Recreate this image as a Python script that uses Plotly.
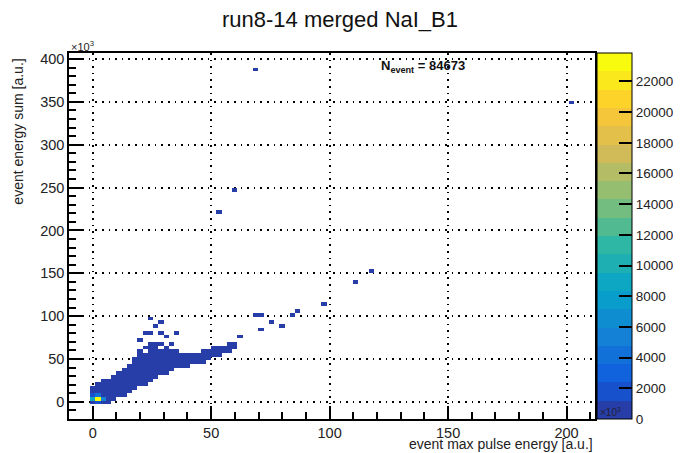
import numpy as np
import plotly.graph_objects as go

# histogram binning (ROOT TH2, 100 x 100 bins over the axis range)
x_lo, x_hi, nbx = -10.0, 212.0, 100
y_lo, y_hi, nby = -20.0, 407.0, 100

# main blob, one entry per x column: lower/upper edge of filled bins and typical count
blob_x = [0.0, 2.2, 4.4, 6.7, 8.9, 11.1, 13.3, 15.5, 17.8, 20.0, 22.2, 24.4, 26.6, 28.9,
          31.1, 33.3, 35.5, 37.7, 40.0, 42.2, 44.4, 46.6, 48.8, 51.0, 53.3, 55.5, 57.7, 60.0]
blob_ylo = [0, 0, 0, 1, 3, 6, 9, 12, 16, 19, 22, 26, 29, 32,
            35, 38, 41, 43, 44, 45, 46, 48, 50, 53, 55, 57, 59, 63]
blob_yhi = [18, 21, 24, 26, 31, 35, 39, 44, 52, 58, 64, 68, 69, 68,
            65, 60, 57, 56, 56, 56, 56, 58, 60, 62, 63, 65, 67, 69]
blob_count = [650, 600, 520, 450, 380, 320, 260, 210, 160, 120, 90, 70, 50, 40,
              30, 24, 20, 16, 14, 12, 10, 8, 6, 5, 4, 3, 2, 2]

# empty bins inside the blob
hole_x = [22.2, 28.9]
hole_y = [59.0, 63.3]

# hot bins near the origin
hot_x = [2.2, 0.0, 4.4, 2.2, 0.0, 2.2]
hot_y = [3.5, 3.5, 3.5, 7.8, 7.8, -0.8]
hot_count = [23850, 9000, 5000, 4200, 2200, 1800]

# sparse bins above the blob and along the tail
lone_x = [19, 22, 24, 24.5, 26, 28, 29, 30, 33, 35, 63, 68, 70, 70, 76, 80, 84, 86,
          98, 111, 117, 54, 59, 61, 69, 202]
lone_y = [73, 79, 79, 96, 88, 92, 81, 75, 67, 81, 74, 101, 101, 86, 94, 90, 102, 105,
          116, 140, 151, 220, 249, 249, 388, 348]
lone_count = [3, 2, 2, 1, 1, 1, 2, 2, 2, 1, 1, 1, 1, 1, 1, 1, 1, 1,
              1, 1, 1, 1, 1, 1, 1, 1]

n_event = 84673
z_max = 23850

# ROOT kBird palette
bird_stops = [0.0, 0.125, 0.25, 0.375, 0.5, 0.625, 0.75, 0.875, 1.0]
bird_r = [0.2082, 0.0592, 0.0780, 0.0232, 0.1802, 0.5301, 0.8186, 0.9956, 0.9764]
bird_g = [0.1664, 0.3599, 0.5041, 0.6419, 0.7178, 0.7492, 0.7328, 0.7862, 0.9832]
bird_b = [0.5293, 0.8684, 0.8385, 0.7914, 0.6425, 0.4662, 0.3499, 0.1968, 0.0539]

n_cont = 20
colorscale = []
for i in range(n_cont):
    idx = int((i + 0.99) * 255 / n_cont)
    f = min(idx, 254) / 254
    r = np.interp(f, bird_stops, bird_r)
    g = np.interp(f, bird_stops, bird_g)
    b = np.interp(f, bird_stops, bird_b)
    c = "rgb(%d,%d,%d)" % (round(r * 255), round(g * 255), round(b * 255))
    colorscale.append([i / n_cont, c])
    colorscale.append([(i + 1) / n_cont, c])

dx = (x_hi - x_lo) / nbx
dy = (y_hi - y_lo) / nby
x_cent = x_lo + dx * (np.arange(nbx) + 0.5)
y_cent = y_lo + dy * (np.arange(nby) + 0.5)


def xbin(v):
    return int(np.floor((v - x_lo) / dx))


def ybin(v):
    return int(np.floor((v - y_lo) / dy))


z = np.full((nby, nbx), np.nan)
for xv, lo, hi, c in zip(blob_x, blob_ylo, blob_yhi, blob_count):
    i = xbin(xv)
    for j in range(ybin(lo), ybin(hi) + 1):
        z[j, i] = c
for xv, yv in zip(hole_x, hole_y):
    z[ybin(yv), xbin(xv)] = np.nan
for xv, yv, c in zip(hot_x, hot_y, hot_count):
    z[ybin(yv), xbin(xv)] = c
for xv, yv, c in zip(lone_x, lone_y, lone_count):
    z[ybin(yv), xbin(xv)] = c

font = "Liberation Sans, Arial, Helvetica, sans-serif"

fig = go.Figure(
    go.Heatmap(
        x=x_cent,
        y=y_cent,
        z=z,
        zmin=0,
        zmax=z_max,
        colorscale=colorscale,
        hoverongaps=False,
        colorbar=dict(
            xref="paper",
            x=1.004,
            xanchor="left",
            xpad=0,
            y=0.5,
            yanchor="middle",
            ypad=0,
            len=1,
            lenmode="fraction",
            thickness=35,
            thicknessmode="pixels",
            outlinecolor="black",
            outlinewidth=1,
            tickmode="linear",
            tick0=0,
            dtick=2000,
            tickformat="d",
            ticks="inside",
            ticklen=13,
            tickwidth=1.5,
            tickcolor="black",
            tickfont=dict(family=font, size=13.5, color="#222"),
        ),
    )
)

axis_common = dict(
    tickmode="linear",
    tick0=0,
    dtick=50,
    ticks="inside",
    ticklen=13,
    tickwidth=1.5,
    tickcolor="black",
    minor=dict(ticks="inside", ticklen=7, tickwidth=1.5, tickcolor="black",
               tick0=0, dtick=10, showgrid=False),
    showgrid=True,
    gridcolor="black",
    gridwidth=1.6,
    griddash="1.6px,5px",
    zeroline=False,
    showline=True,
    linecolor="black",
    linewidth=1.5,
    mirror=True,
    tickfont=dict(family=font, size=14.5, color="#222"),
)

fig.update_xaxes(range=[x_lo, x_hi], **axis_common)
fig.update_yaxes(range=[y_lo, y_hi], **axis_common)

# the page adds an 8px body margin, so the figure is 8px smaller than the window
fig.update_layout(
    width=673,
    height=445,
    margin=dict(l=61, r=86, t=45, b=34, autoexpand=False),
    paper_bgcolor="white",
    plot_bgcolor="white",
    title=dict(
        text="run8-14 merged NaI_B1",
        x=332 / 673,
        xref="container",
        xanchor="center",
        y=1 - 11 / 445,
        yref="container",
        yanchor="middle",
        font=dict(family=font, size=22, color="#111"),
    ),
    annotations=[
        dict(text="event max pulse energy [a.u.]", xref="paper", yref="paper",
             x=1.0, y=-0.068, xanchor="right", yanchor="middle", showarrow=False,
             font=dict(family=font, size=14, color="#222")),
        dict(text="event energy sum [a.u.]", xref="paper", yref="paper",
             x=-0.097, y=0.99, xanchor="center", yanchor="top", textangle=-90,
             showarrow=False, font=dict(family=font, size=14, color="#222")),
        dict(text="×10<sup>3</sup>", xref="paper", yref="paper",
             x=0.0, y=1.0, xanchor="left", yanchor="bottom", yshift=-2,
             showarrow=False, font=dict(family=font, size=11, color="#222")),
        dict(text="×10<sup>3</sup>", xref="paper", yref="paper",
             x=1.005, y=0.02, xanchor="left", yanchor="middle",
             showarrow=False, font=dict(family=font, size=10, color="#223")),
        dict(text="<b>N<sub>event</sub> = %d</b>" % n_event, xref="paper", yref="paper",
             x=0.673, y=0.962, xanchor="center", yanchor="middle",
             showarrow=False, font=dict(family=font, size=13, color="#111")),
    ],
)

fig.write_html("out.html")
